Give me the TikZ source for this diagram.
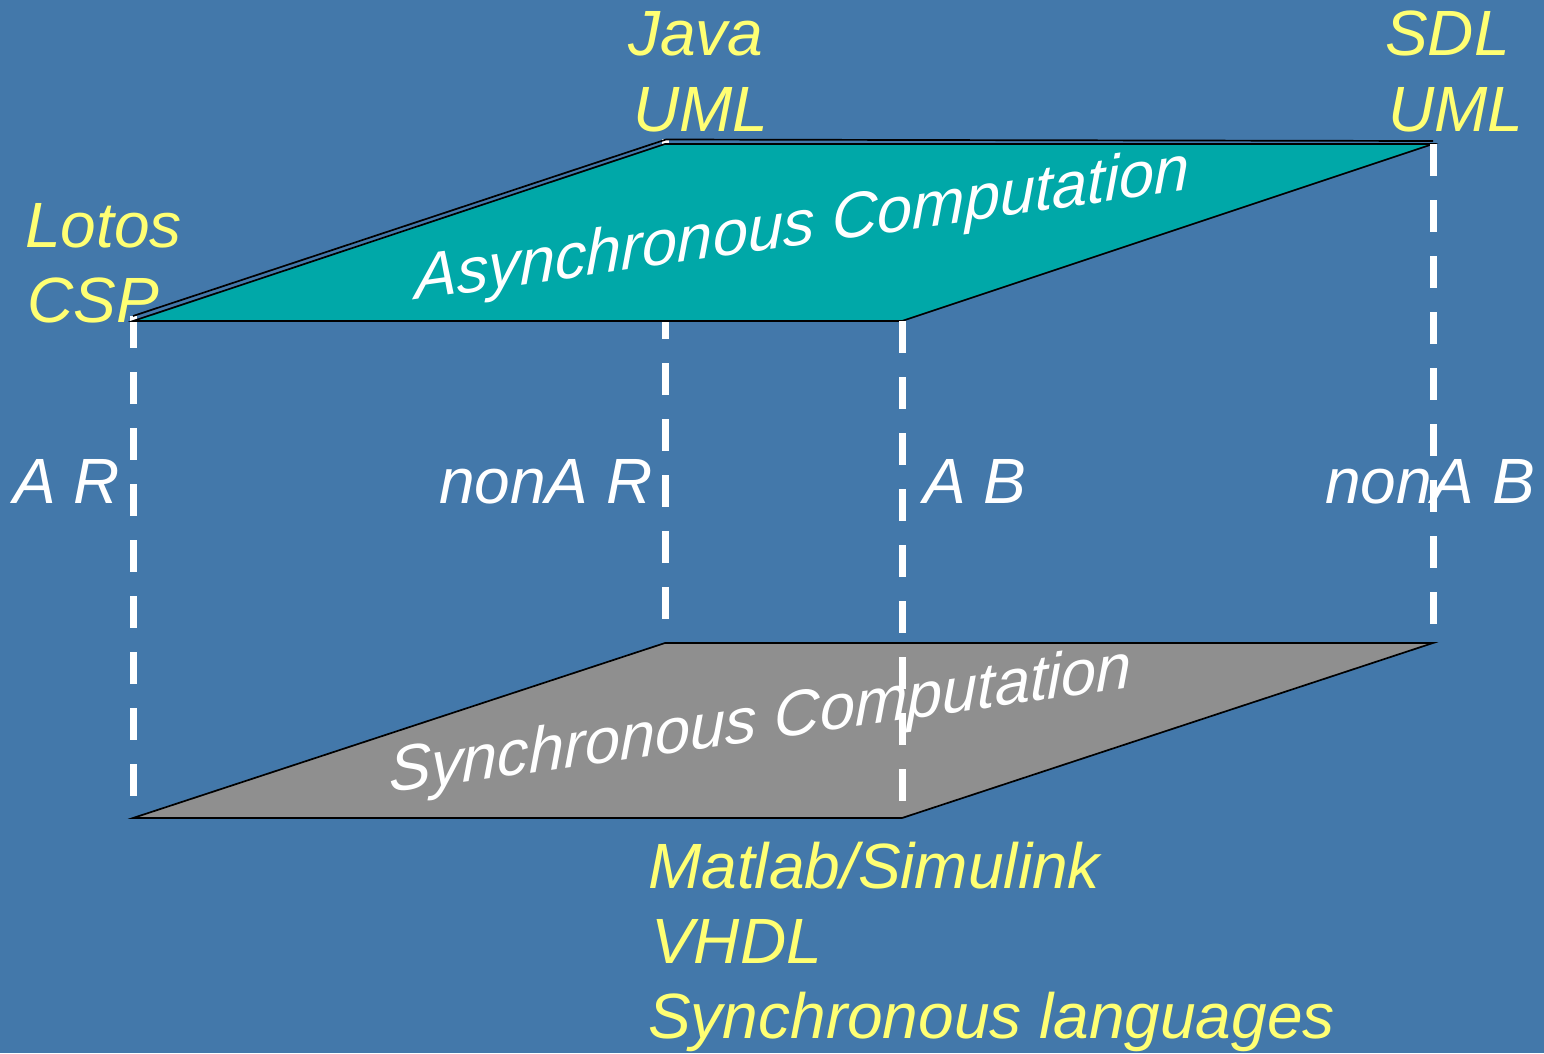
\documentclass[tikz,border=0pt]{standalone}
\usepackage{fontspec}
\setmainfont{Liberation Sans}
\definecolor{slide}{HTML}{4378AA}
\definecolor{asyncplane}{HTML}{00A8A8}
\definecolor{syncplane}{HTML}{8F8F8F}
\definecolor{langyellow}{HTML}{FFFF73}
\tikzset{
  lbl/.style={inner sep=0pt, anchor=base west, font=\fontsize{64}{77}\selectfont\itshape},
  lang/.style={lbl, text=langyellow},
  cls/.style={lbl, text=white},
  planetitle/.style={lbl, text=white, xscale=0.985, yslant=0.14},
  planeedge/.style={draw=black, line width=1.7pt, line join=miter},
  guide/.style={draw=white, line width=7pt, dash pattern=on 32pt off 24pt},
}
\begin{document}
\begin{tikzpicture}[x=1pt, y=-1pt]
  % page
  \fill[slide] (0,0) rectangle (1544,1053);
  \useasboundingbox (0,0) rectangle (1544,1053);

  % corners of the two planes
  \coordinate (a1) at (133,321);
  \coordinate (a2) at (665,144);
  \coordinate (a3) at (1433,144);
  \coordinate (a4) at (902,321);
  \coordinate (s1) at (133,818);
  \coordinate (s2) at (665,643);
  \coordinate (s3) at (1433,643);
  \coordinate (s4) at (902,818);

  % ends of the vertical guides
  \coordinate (g1t) at (133,316);
  \coordinate (g2t) at (665,139);
  \coordinate (g2b) at (665,624);
  \coordinate (g4b) at (1433,624);

  % guides that pass behind the planes
  \draw[guide] (g1t) -- (s1);
  \draw[guide] (g2t) -- (g2b);

  % asynchronous plane, with its doubled back edge
  \path[fill=asyncplane, planeedge] (a1) -- (a2) -- (a3) -- (a4) -- cycle;
  \coordinate (o1) at (133,316);
  \coordinate (o2) at (666,139.5);
  \coordinate (o3) at (1433,141);
  \draw[planeedge] (o1) -- (o2) -- (o3);

  % synchronous plane
  \path[fill=syncplane, planeedge] (s1) -- (s2) -- (s3) -- (s4) -- cycle;

  % guides in front of the planes
  \draw[guide] (a4) -- (s4);
  \draw[guide] (a3) -- (g4b);

  % plane titles
  \node[planetitle] (tasync) at (415,300) {Asynchronous Computation};
  \node[planetitle] (tsync) at (389,793) {Synchronous Computation};

  % languages
  \node[lang] (java)  at (628,55)  {Java};
  \node[lang] (uml1)  at (633,131) {UML};
  \node[lang] (sdl)   at (1385,55) {SDL};
  \node[lang] (uml2)  at (1388,131) {UML};
  \node[lang] (lotos) at (25,247)  {Lotos};
  \node[lang] (csp)   at (27,322)  {CSP};
  \node[lang] (matlab) at (648,888)  {Matlab/Simulink};
  \node[lang] (vhdl)   at (651,963)  {VHDL};
  \node[lang] (synl)   at (648,1038) {Synchronous languages};

  % classes
  \node[cls] (ar)    at (13,503)   {A R};
  \node[cls] (nar)   at (439,503)  {nonA R};
  \node[cls] (ab)    at (923,503)  {A B};
  \node[cls] (nab)   at (1325,503) {nonA B};
\end{tikzpicture}
\end{document}
